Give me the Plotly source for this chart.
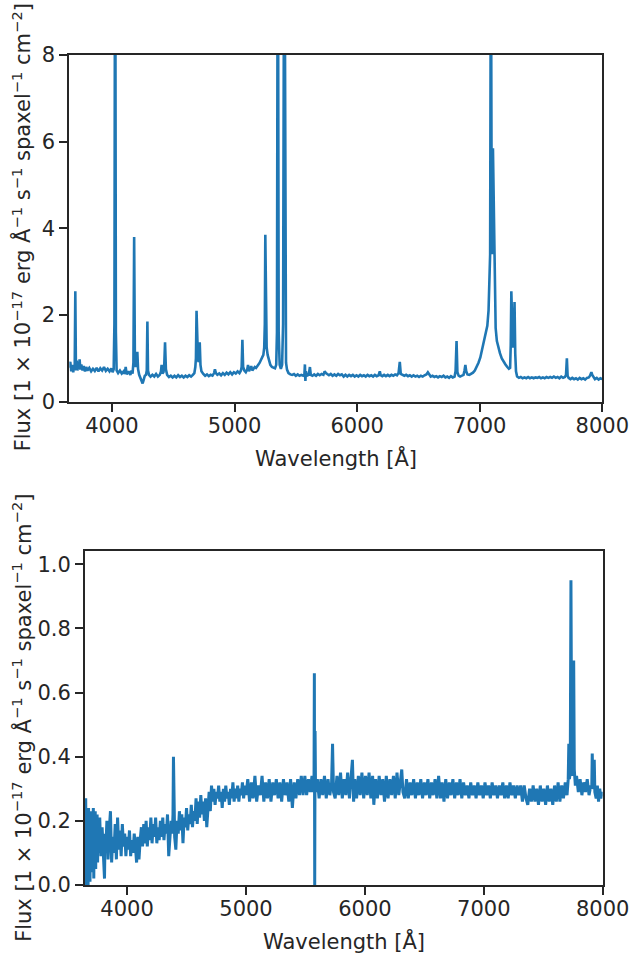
import plotly.graph_objects as go

# ---------------- Top spectrum (wavelength [Å], flux) ----------------
top_wave = [
    3652, 3660, 3668, 3676, 3684, 3690, 3696, 3701, 3706, 3712, 3718, 3724, 3730, 3736, 3742, 3750,
    3760, 3770, 3780, 3790, 3800, 3815, 3830, 3845, 3860, 3875, 3890, 3905, 3920, 3935, 3950, 3965,
    3980, 3995, 4005, 4014, 4020, 4026, 4032, 4038, 4050, 4065, 4080, 4095, 4105, 4112, 4120, 4135,
    4150, 4160, 4168, 4175, 4181, 4187, 4194, 4200, 4207, 4213, 4222, 4232, 4242, 4250, 4258, 4268,
    4278, 4284, 4289, 4294, 4302, 4315, 4330, 4345, 4360, 4375, 4390, 4400, 4405, 4412, 4420, 4426,
    4433, 4440, 4450, 4465, 4480, 4495, 4510, 4525, 4540, 4555, 4570, 4585, 4600, 4615, 4630, 4645,
    4660, 4672, 4680, 4685, 4690, 4696, 4702, 4709, 4716, 4722, 4730, 4745, 4760, 4775, 4790, 4805,
    4820, 4833, 4840, 4848, 4860, 4875, 4890, 4905, 4920, 4935, 4950, 4965, 4980, 4995, 5010, 5025,
    5040, 5052, 5058, 5064, 5070, 5080, 5092, 5104, 5110, 5118, 5128, 5136, 5145, 5155, 5165, 5175,
    5185, 5195, 5205, 5215, 5225, 5235, 5242, 5247, 5251, 5256, 5262, 5270, 5280, 5292, 5305, 5318,
    5330, 5340, 5346, 5353, 5360, 5368, 5378, 5388, 5396, 5406, 5414, 5420, 5428, 5440, 5455, 5470,
    5485, 5500, 5515, 5530, 5545, 5560, 5570, 5574, 5578, 5582, 5590, 5605, 5615, 5622, 5635, 5650,
    5665, 5680, 5695, 5710, 5725, 5735, 5745, 5755, 5770, 5785, 5800, 5815, 5830, 5845, 5860, 5875,
    5890, 5905, 5920, 5935, 5950, 5965, 5980, 5995, 6010, 6025, 6040, 6055, 6070, 6085, 6100, 6115,
    6130, 6145, 6160, 6175, 6185, 6192, 6205, 6220, 6235, 6250, 6265, 6280, 6295, 6310, 6325, 6338,
    6348, 6356, 6370, 6385, 6400, 6415, 6430, 6445, 6460, 6475, 6490, 6505, 6520, 6535, 6550, 6565,
    6577, 6588, 6600, 6615, 6630, 6645, 6660, 6675, 6690, 6705, 6720, 6735, 6750, 6765, 6780, 6795,
    6803, 6811, 6818, 6828, 6840, 6855, 6868, 6876, 6883, 6890, 6900, 6915, 6930, 6945, 6960, 6975,
    6990, 7005, 7020, 7035, 7050, 7062, 7072, 7080, 7085, 7089, 7092, 7096, 7100, 7104, 7108, 7112,
    7116, 7122, 7130, 7140, 7152, 7165, 7180, 7195, 7210, 7225, 7238, 7248, 7253, 7258, 7263, 7270,
    7278, 7284, 7290, 7296, 7305, 7320, 7335, 7350, 7365, 7380, 7395, 7410, 7425, 7440, 7455, 7470,
    7485, 7500, 7515, 7530, 7545, 7560, 7575, 7590, 7605, 7620, 7635, 7650, 7665, 7680, 7695, 7704,
    7711, 7717, 7725, 7740, 7755, 7770, 7785, 7800, 7815, 7830, 7845, 7860, 7875, 7890, 7900, 7906,
    7911, 7918, 7928, 7940, 7955, 7970, 7985, 8000,
]
top_flux = [
    0.78, 0.92, 0.70, 0.85, 0.68, 0.80, 0.72, 2.55, 0.74, 0.95, 0.72, 0.88, 0.76, 0.98, 0.74, 0.86,
    0.72, 0.82, 0.70, 0.80, 0.72, 0.78, 0.70, 0.76, 0.71, 0.78, 0.70, 0.77, 0.72, 0.80, 0.71, 0.76,
    0.70, 0.77, 0.68, 0.75, 1.80, 13.0, 1.60, 0.72, 0.66, 0.72, 0.65, 0.70, 0.64, 0.80, 0.63, 0.70,
    0.62, 0.72, 0.65, 0.90, 3.80, 1.00, 0.80, 0.90, 1.15, 0.75, 0.62, 0.55, 0.45, 0.42, 0.50, 0.60,
    0.62, 0.72, 1.85, 0.72, 0.62, 0.58, 0.62, 0.58, 0.64, 0.58, 0.62, 0.70, 0.85, 0.65, 0.68, 0.80,
    1.37, 0.75, 0.62, 0.57, 0.60, 0.56, 0.60, 0.56, 0.61, 0.57, 0.60, 0.56, 0.60, 0.57, 0.61, 0.58,
    0.62, 0.66, 0.80, 1.00, 2.10, 1.10, 0.95, 0.92, 1.37, 0.85, 0.70, 0.64, 0.60, 0.63, 0.59, 0.62,
    0.60, 0.66, 0.75, 0.66, 0.62, 0.65, 0.61, 0.66, 0.62, 0.67, 0.63, 0.68, 0.63, 0.68, 0.65, 0.70,
    0.66, 0.72, 0.80, 1.43, 0.80, 0.72, 0.68, 0.75, 0.85, 0.70, 0.76, 0.82, 0.72, 0.76, 0.80, 0.78,
    0.84, 0.86, 0.90, 0.96, 1.00, 1.08, 1.25, 1.80, 3.85, 1.80, 1.25, 1.08, 0.95, 0.85, 0.80, 0.78,
    0.77, 0.85, 1.60, 13.0, 1.60, 0.85, 0.76, 0.85, 1.80, 13.0, 1.80, 0.90, 0.74, 0.66, 0.63, 0.62,
    0.64, 0.60, 0.63, 0.60, 0.62, 0.60, 0.63, 0.86, 0.48, 0.70, 0.60, 0.62, 0.80, 0.62, 0.60, 0.63,
    0.60, 0.64, 0.61, 0.64, 0.62, 0.70, 0.66, 0.63, 0.61, 0.64, 0.60, 0.63, 0.60, 0.64, 0.61, 0.63,
    0.58, 0.62, 0.58, 0.62, 0.59, 0.62, 0.58, 0.61, 0.58, 0.62, 0.59, 0.61, 0.58, 0.62, 0.59, 0.61,
    0.58, 0.62, 0.59, 0.61, 0.70, 0.61, 0.59, 0.62, 0.59, 0.62, 0.59, 0.62, 0.60, 0.63, 0.61, 0.66,
    0.92, 0.64, 0.62, 0.60, 0.62, 0.59, 0.61, 0.58, 0.61, 0.58, 0.60, 0.57, 0.60, 0.58, 0.61, 0.63,
    0.68, 0.62, 0.58, 0.60, 0.57, 0.59, 0.56, 0.59, 0.57, 0.60, 0.56, 0.58, 0.55, 0.59, 0.56, 0.58,
    0.70, 1.40, 0.68, 0.60, 0.58, 0.60, 0.62, 0.72, 0.85, 0.70, 0.63, 0.62, 0.64, 0.67, 0.72, 0.80,
    0.90, 1.02, 1.20, 1.40, 1.60, 1.75, 2.10, 2.90, 3.40, 8.50, 10.5, 6.00, 3.40, 4.50, 5.85, 5.00,
    3.40, 2.30, 1.70, 1.40, 1.25, 1.12, 1.00, 0.92, 0.86, 0.80, 0.76, 0.78, 1.30, 2.55, 1.50, 1.25,
    1.40, 2.30, 1.10, 0.70, 0.58, 0.55, 0.57, 0.54, 0.56, 0.54, 0.57, 0.54, 0.56, 0.54, 0.56, 0.55,
    0.57, 0.54, 0.56, 0.54, 0.57, 0.55, 0.57, 0.55, 0.58, 0.55, 0.57, 0.54, 0.58, 0.55, 0.57, 0.62,
    1.00, 0.60, 0.55, 0.52, 0.55, 0.52, 0.54, 0.51, 0.55, 0.52, 0.54, 0.51, 0.55, 0.56, 0.60, 0.64,
    0.68, 0.62, 0.56, 0.52, 0.55, 0.51, 0.54, 0.52,
]

# ---------------- Bottom spectrum (wavelength [Å], flux) ----------------
bot_wave = [
    3648, 3652, 3656, 3660, 3664, 3668, 3672, 3676, 3680, 3684, 3688, 3692, 3696, 3700, 3704, 3708,
    3712, 3716, 3720, 3724, 3728, 3732, 3736, 3740, 3744, 3748, 3752, 3756, 3760,
    3770, 3780, 3790, 3800, 3810, 3815, 3820, 3830, 3840, 3850, 3860, 3870, 3880, 3890, 3900, 3910,
    3920, 3930, 3940, 3950, 3960, 3970, 3980, 3990, 4000, 4010, 4020, 4030, 4040, 4050, 4060, 4070,
    4080, 4090, 4100, 4110, 4120, 4130, 4140, 4150, 4160, 4170, 4180, 4190, 4200, 4210, 4220, 4230,
    4240, 4250, 4260, 4270, 4280, 4290, 4300, 4310, 4320, 4330, 4340, 4350, 4360, 4370, 4380, 4386,
    4390, 4394, 4400, 4410, 4420, 4430, 4440, 4450, 4460, 4470, 4480, 4490, 4500, 4510, 4520, 4530,
    4540, 4550, 4560, 4570, 4580, 4590, 4600, 4610, 4620, 4630, 4640, 4650, 4660, 4670, 4680, 4690,
    4700, 4710, 4720, 4730, 4740, 4750, 4760, 4770, 4780, 4790, 4800, 4810, 4820, 4830, 4840, 4850,
    4860, 4870, 4880, 4890, 4900, 4910, 4920, 4930, 4940, 4950, 4960, 4970, 4980, 4990, 5000,
    5015, 5030, 5045, 5060, 5075, 5090, 5105, 5120, 5135, 5150, 5165, 5180, 5195, 5210, 5225, 5240,
    5255, 5270, 5285, 5300, 5315, 5330, 5345, 5360, 5375, 5390, 5405, 5420, 5435, 5450, 5465, 5480,
    5495, 5510, 5525, 5540, 5555, 5565, 5572, 5575, 5578, 5581, 5585, 5600, 5615, 5630, 5645, 5660,
    5675, 5690, 5705, 5720, 5728, 5736, 5750, 5765, 5780, 5795, 5810, 5825, 5840, 5855, 5870, 5885,
    5895, 5905, 5915, 5930, 5945, 5960, 5975, 5990, 6005, 6020, 6035, 6050, 6065, 6075, 6090, 6105,
    6120, 6135, 6150, 6165, 6180, 6195, 6210, 6225, 6240, 6255, 6270, 6285, 6300, 6310, 6320, 6335,
    6350, 6365, 6380, 6395, 6410, 6425, 6440, 6455, 6470, 6485, 6500, 6515, 6530, 6545, 6560, 6575,
    6590, 6605, 6620, 6635, 6650, 6665, 6680, 6695, 6710, 6725, 6740, 6755, 6770, 6785, 6800, 6815,
    6830, 6845, 6860, 6875, 6890, 6905, 6920, 6935, 6950, 6965, 6980, 6995, 7010, 7025, 7040, 7055,
    7070, 7085, 7100, 7115, 7130, 7145, 7160, 7175, 7190, 7205, 7220, 7235, 7250, 7265, 7280, 7295,
    7310, 7325, 7340, 7355, 7370, 7385, 7400, 7415, 7430, 7445, 7460, 7475, 7490, 7505, 7520, 7535,
    7550, 7565, 7580, 7595, 7610, 7625, 7640, 7655, 7670, 7685, 7700, 7710, 7715, 7720, 7727, 7733,
    7739, 7745, 7752, 7756, 7761, 7770, 7780, 7795, 7810, 7825, 7840, 7855, 7870, 7885, 7900, 7908,
    7912, 7918, 7925, 7929, 7934, 7945, 7955, 7965, 7975, 7985, 7995, 8000,
]
bot_flux = [
    0.10, 0.27, 0.00, 0.22, 0.03, 0.19, 0.00, 0.24, 0.06, 0.18, 0.01, 0.21, 0.08, 0.23, 0.04, 0.17,
    0.11, 0.24, 0.02, 0.20, 0.09, 0.23, 0.05, 0.19, 0.12, 0.22, 0.07, 0.18, 0.10,
    0.21, 0.09, 0.18, 0.07, 0.02, 0.16, 0.10, 0.20, 0.08, 0.17, 0.23, 0.07, 0.15, 0.10, 0.19, 0.08,
    0.21, 0.11, 0.17, 0.09, 0.19, 0.12, 0.16, 0.09, 0.15, 0.11, 0.17, 0.09, 0.14, 0.10, 0.16, 0.12,
    0.07, 0.15, 0.08, 0.14, 0.18, 0.12, 0.19, 0.13, 0.20, 0.12, 0.18, 0.14, 0.21, 0.13, 0.19, 0.15,
    0.21, 0.13, 0.18, 0.14, 0.20, 0.15, 0.21, 0.14, 0.19, 0.16, 0.22, 0.09, 0.17, 0.20, 0.16, 0.22,
    0.40, 0.20, 0.15, 0.11, 0.20, 0.16, 0.23, 0.17, 0.22, 0.13, 0.21, 0.18, 0.24, 0.17, 0.22, 0.19,
    0.25, 0.18, 0.23, 0.20, 0.27, 0.19, 0.26, 0.21, 0.28, 0.22, 0.26, 0.20, 0.27, 0.18, 0.24, 0.29,
    0.23, 0.31, 0.26, 0.30, 0.25, 0.29, 0.27, 0.31, 0.26, 0.29, 0.24, 0.30, 0.26, 0.31, 0.27, 0.29,
    0.25, 0.30, 0.27, 0.32, 0.26, 0.30, 0.27, 0.31, 0.26, 0.30, 0.28, 0.32, 0.27, 0.31, 0.28,
    0.33, 0.26, 0.32, 0.27, 0.34, 0.26, 0.31, 0.28, 0.34, 0.26, 0.32, 0.27, 0.33, 0.26, 0.32, 0.28,
    0.33, 0.27, 0.32, 0.26, 0.33, 0.28, 0.32, 0.26, 0.33, 0.24, 0.32, 0.27, 0.33, 0.28, 0.34, 0.28,
    0.34, 0.28, 0.33, 0.29, 0.34, 0.29, 0.31, 0.66, 0.00, 0.48, 0.29, 0.33, 0.27, 0.33, 0.28, 0.34,
    0.27, 0.33, 0.28, 0.32, 0.44, 0.29, 0.27, 0.34, 0.28, 0.35, 0.27, 0.33, 0.28, 0.35, 0.27, 0.33,
    0.39, 0.26, 0.33, 0.27, 0.34, 0.28, 0.35, 0.27, 0.34, 0.28, 0.35, 0.27, 0.34, 0.25, 0.33, 0.27,
    0.34, 0.28, 0.33, 0.26, 0.34, 0.27, 0.33, 0.28, 0.34, 0.27, 0.35, 0.28, 0.34, 0.36, 0.29, 0.27,
    0.33, 0.27, 0.32, 0.28, 0.33, 0.27, 0.32, 0.28, 0.33, 0.27, 0.32, 0.28, 0.33, 0.27, 0.32, 0.28,
    0.33, 0.27, 0.34, 0.27, 0.32, 0.26, 0.33, 0.27, 0.32, 0.28, 0.33, 0.27, 0.32, 0.28, 0.33, 0.27,
    0.32, 0.28, 0.31, 0.27, 0.32, 0.28, 0.31, 0.27, 0.32, 0.28, 0.31, 0.27, 0.32, 0.28, 0.31, 0.27,
    0.32, 0.28, 0.31, 0.27, 0.31, 0.28, 0.32, 0.27, 0.31, 0.27, 0.32, 0.28, 0.31, 0.27, 0.31, 0.28,
    0.31, 0.26, 0.31, 0.27, 0.25, 0.30, 0.26, 0.31, 0.26, 0.30, 0.25, 0.31, 0.26, 0.30, 0.25, 0.31,
    0.26, 0.30, 0.25, 0.31, 0.26, 0.32, 0.26, 0.31, 0.27, 0.32, 0.28, 0.33, 0.44, 0.33, 0.35, 0.95,
    0.40, 0.34, 0.50, 0.70, 0.36, 0.31, 0.34, 0.29, 0.33, 0.28, 0.32, 0.29, 0.33, 0.28, 0.31, 0.30,
    0.41, 0.31, 0.30, 0.39, 0.29, 0.27, 0.31, 0.26, 0.30, 0.27, 0.29, 0.28,
]

x_ticks = [4000, 5000, 6000, 7000, 8000]
top_y_ticks = [0, 2, 4, 6, 8]
bot_y_ticks = [0.0, 0.2, 0.4, 0.6, 0.8, 1.0]

LINE_COLOR = "#1f77b4"
INK = "#262626"
FONT = "DejaVu Sans"
W, H = 631, 962

fig = go.Figure()
fig.add_trace(go.Scatter(x=top_wave, y=top_flux, mode="lines", xaxis="x", yaxis="y",
                         line=dict(color=LINE_COLOR, width=2.6), showlegend=False))
fig.add_trace(go.Scatter(x=bot_wave, y=bot_flux, mode="lines", xaxis="x2", yaxis="y2",
                         line=dict(color=LINE_COLOR, width=3.0), showlegend=False))

axis_common = dict(
    showline=True, mirror=True, linecolor=INK, linewidth=1.9,
    ticks="outside", ticklen=8, tickwidth=1.6, tickcolor=INK,
    showgrid=False, zeroline=False, automargin=False,
    tickfont=dict(family=FONT, size=21, color=INK),
)

# frames, in screenshot pixels
top_l, top_r, top_t, top_b = 69.3, 602.3, 55.0, 401.7
bot_l, bot_r, bot_t, bot_b = 85.0, 602.7, 550.7, 885.0


def px(v):
    return v / W


def py(v):
    return 1 - v / H


fig.update_layout(
    width=W, height=H,
    margin=dict(l=0, r=0, t=0, b=0, autoexpand=False),
    paper_bgcolor="white", plot_bgcolor="white",
    xaxis=dict(domain=[px(top_l), px(top_r)], range=[3652, 8000], anchor="y",
               tickvals=x_ticks, ticklabelstandoff=-4, **axis_common),
    yaxis=dict(domain=[py(top_b), py(top_t)], range=[0, 8], anchor="x",
               tickvals=top_y_ticks, **axis_common),
    xaxis2=dict(domain=[px(bot_l), px(bot_r)], range=[3646, 8000], anchor="y2",
                tickvals=x_ticks, ticklabelstandoff=-4, **axis_common),
    yaxis2=dict(domain=[py(bot_b), py(bot_t)], range=[0, 1.042], anchor="x2",
                tickvals=bot_y_ticks, tickformat=".1f", **axis_common),
)

ylab = "Flux [1 × 10<sup>−17</sup> erg Å<sup>−1</sup> s<sup>−1</sup> spaxel<sup>−1</sup> cm<sup>−2</sup>]"
xlab = "Wavelength [Å]"
title_font = dict(family=FONT, size=21, color=INK)
ann = [
    dict(text=ylab, x=px(22), y=py((top_t + top_b) / 2 - 1), textangle=-90),
    dict(text=ylab, x=px(22), y=py((bot_t + bot_b) / 2), textangle=-90),
    dict(text=xlab, x=px((top_l + top_r) / 2), y=py(458)),
    dict(text=xlab, x=px((bot_l + bot_r) / 2), y=py(941)),
]
for a in ann:
    fig.add_annotation(xref="paper", yref="paper", showarrow=False,
                       xanchor="center", yanchor="middle", font=title_font, **a)

# remove the page's default 8 px body margin so the figure fills the window exactly
fig.write_html("out.html", config={"displayModeBar": False},
               post_script="document.body.style.margin='0';")
